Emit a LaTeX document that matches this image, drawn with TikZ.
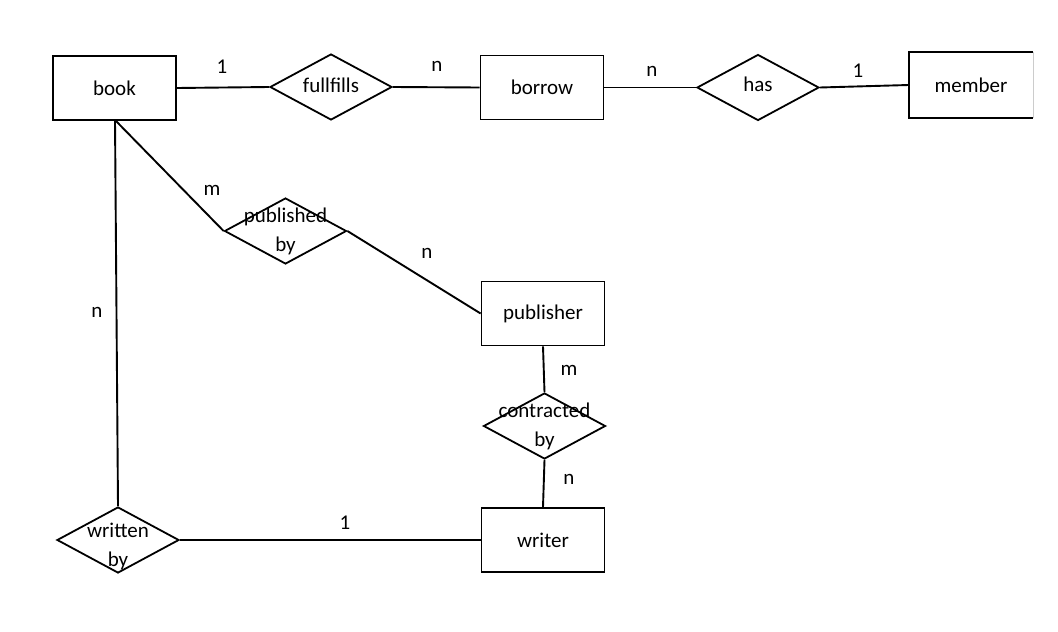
\documentclass[tikz,border=0pt]{standalone}
\usepackage{fontspec}
\setmainfont{Carlito}
\usetikzlibrary{shapes.geometric}
\begin{document}
\begin{tikzpicture}[x=1pt,y=-1pt,
  every node/.style={font=\fontsize{21}{29}\selectfont},
  entity/.style={draw, line width=1.8pt, minimum width=123pt, minimum height=64pt, inner sep=0pt},
  rel/.style={draw, diamond, line width=1.8pt, minimum width=122pt, minimum height=66pt, inner sep=0pt},
  reltext/.style={inner sep=0pt, align=center},
  conn/.style={line width=1.9pt},
  card/.style={inner sep=0pt}]
\useasboundingbox (0,0) rectangle (1058,632);
% entities
\node[entity] (book) at (114.5,88) {book};
\node[entity] (borrow) at (542,87.5) {borrow};
\node[entity, draw=none] (member) at (971,85) {member};
\draw[line width=1.8pt] (member.north east) -- (member.north west) -- (member.south west) -- (member.south east);
\draw[line width=0.6pt, gray!40] (member.north east) -- (member.south east);
\node[entity] (publisher) at (543,313.5) {publisher};
\node[entity] (writer) at (543,540) {writer};
% relationships
\node[rel, label={[reltext]center:\raisebox{4pt}{fullfills}}] (fulfills) at (331,87) {};
\node[rel, label={[reltext]center:\raisebox{7pt}{has}}] (has) at (758,87.5) {};
\node[rel, label={[reltext]center:{published\\by}}] (pubby) at (285.5,231) {};
\node[rel, label={[reltext]center:{contracted\\by}}] (contr) at (544.5,426) {};
\node[rel, label={[reltext, yshift=-6pt]center:{written\\by}}] (writby) at (118,540) {};
% connectors
\draw[conn] (book.east) -- (fulfills.west);
\draw[conn] (fulfills.east) -- (borrow.west);
\draw[conn] (borrow.east) -- (has.west);
\draw[conn] (has.east) -- (member.west);
\coordinate (bk) at (115,120);
\draw[conn] (bk) -- (pubby.west);
\draw[conn] (pubby.east) -- (publisher.west);
\draw[conn] (publisher.south) -- (contr.north);
\draw[conn] (contr.south) -- (writer.north);
\draw[conn] (bk) -- (writby.north);
\draw[conn] (writby.east) -- (writer.west);
% cardinalities
\node[card] (c1) at (222,67) {1};
\node[card] (c2) at (437,66) {n};
\node[card] (c3) at (652,71) {n};
\node[card] (c4) at (858,71) {1};
\node[card] (c5) at (212,190) {m};
\node[card] (c6) at (427,253) {n};
\node[card] (c7) at (569,370) {m};
\node[card] (c8) at (569,479) {n};
\node[card] (c9) at (97,312) {n};
\node[card] (c10) at (345,523) {1};
\end{tikzpicture}
\end{document}
